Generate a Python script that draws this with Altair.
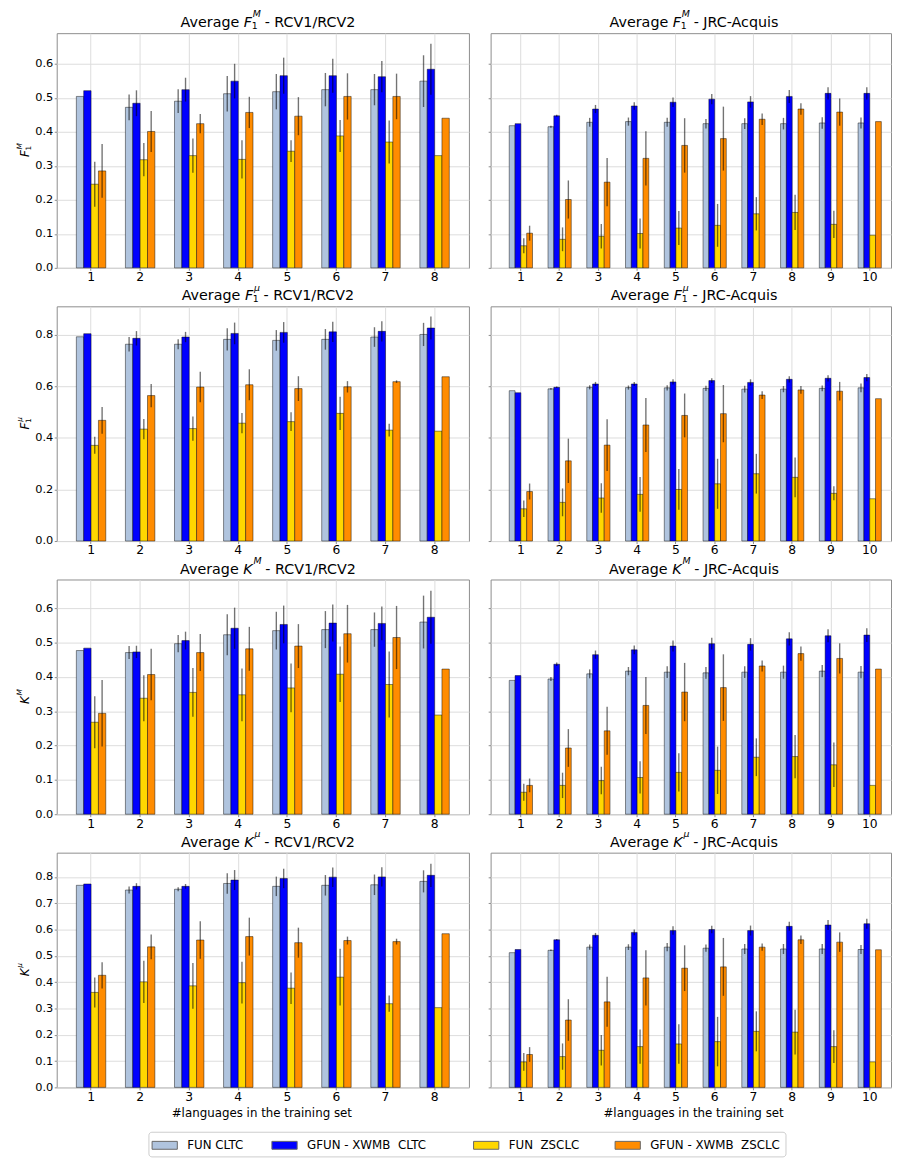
import altair as alt
import pandas as pd

FONT = "DejaVu Sans"

SERIES = ["FUN CLTC", "GFUN - XWMB CLTC", "FUN ZSCLC", "GFUN - XWMB ZSCLC"]
LEGEND_LABELS = ["FUN CLTC",
                 "GFUN - XWMB\u00a0\u00a0CLTC" + "\u00a0" * 5 + "\u200b",
                 "FUN\u00a0\u00a0ZSCLC\u00a0\u00a0\u200b",
                 "GFUN - XWMB\u00a0\u00a0ZSCLC"]
COLORS = ["#b0c4de", "#0000ff", "#ffd700", "#ff8c00"]

RCV_LANGS = [1, 2, 3, 4, 5, 6, 7, 8]
JRC_LANGS = [1, 2, 3, 4, 5, 6, 7, 8, 9, 10]
X_TITLE = "#languages in the training set"

# ---- Average F1^M - RCV1/RCV2 ----
F1M_RCV_FUN_CLTC = [0.504, 0.472, 0.490, 0.512, 0.518, 0.524, 0.524, 0.549]
F1M_RCV_FUN_CLTC_SD = [None, 0.038, 0.035, 0.052, 0.052, 0.049, 0.046, 0.076]
F1M_RCV_GFUN_CLTC = [0.521, 0.484, 0.524, 0.549, 0.565, 0.565, 0.562, 0.584]
F1M_RCV_GFUN_CLTC_SD = [None, 0.038, 0.035, 0.051, 0.053, 0.050, 0.046, 0.075]
F1M_RCV_FUN_ZSCLC = [0.246, 0.318, 0.330, 0.319, 0.343, 0.388, 0.370, 0.330]
F1M_RCV_FUN_ZSCLC_SD = [0.066, 0.049, 0.050, 0.056, 0.032, 0.047, 0.063, None]
F1M_RCV_GFUN_ZSCLC = [0.285, 0.401, 0.424, 0.457, 0.446, 0.504, 0.504, 0.440]
F1M_RCV_GFUN_ZSCLC_SD = [0.079, 0.060, 0.028, 0.046, 0.056, 0.068, 0.067, None]

# ---- Average F1^M - JRC-Acquis ----
F1M_JRC_FUN_CLTC = [0.418, 0.415, 0.428, 0.430, 0.428, 0.424, 0.424, 0.424, 0.426, 0.426]
F1M_JRC_FUN_CLTC_SD = [None, 0.003, 0.013, 0.012, 0.013, 0.014, 0.016, 0.017, 0.017, 0.016]
F1M_JRC_GFUN_CLTC = [0.424, 0.447, 0.467, 0.476, 0.487, 0.496, 0.488, 0.504, 0.513, 0.513]
F1M_JRC_GFUN_CLTC_SD = [None, 0.003, 0.012, 0.011, 0.014, 0.015, 0.017, 0.019, 0.018, 0.018]
F1M_JRC_FUN_ZSCLC = [0.065, 0.084, 0.093, 0.101, 0.117, 0.125, 0.159, 0.163, 0.128, 0.096]
F1M_JRC_FUN_ZSCLC_SD = [0.022, 0.035, 0.036, 0.044, 0.050, 0.063, 0.049, 0.052, 0.040, None]
F1M_JRC_GFUN_ZSCLC = [0.102, 0.201, 0.252, 0.322, 0.360, 0.380, 0.437, 0.467, 0.458, 0.430]
F1M_JRC_GFUN_ZSCLC_SD = [0.022, 0.056, 0.071, 0.080, 0.080, 0.094, 0.017, 0.017, 0.040, None]

# ---- Average F1^mu - RCV1/RCV2 ----
F1U_RCV_FUN_CLTC = [0.792, 0.763, 0.763, 0.782, 0.778, 0.782, 0.791, 0.801]
F1U_RCV_FUN_CLTC_SD = [None, 0.028, 0.019, 0.043, 0.040, 0.040, 0.038, 0.045]
F1U_RCV_GFUN_CLTC = [0.804, 0.786, 0.791, 0.805, 0.809, 0.811, 0.813, 0.826]
F1U_RCV_GFUN_CLTC_SD = [None, 0.028, 0.020, 0.042, 0.040, 0.039, 0.039, 0.045]
F1U_RCV_FUN_ZSCLC = [0.371, 0.434, 0.436, 0.457, 0.463, 0.495, 0.430, 0.426]
F1U_RCV_FUN_ZSCLC_SD = [0.033, 0.039, 0.047, 0.039, 0.036, 0.064, 0.025, None]
F1U_RCV_GFUN_ZSCLC = [0.468, 0.564, 0.597, 0.606, 0.591, 0.598, 0.618, 0.637]
F1U_RCV_GFUN_ZSCLC_SD = [0.052, 0.045, 0.059, 0.060, 0.048, 0.022, 0.005, None]

# ---- Average F1^mu - JRC-Acquis ----
F1U_JRC_FUN_CLTC = [0.583, 0.590, 0.596, 0.595, 0.594, 0.592, 0.589, 0.589, 0.592, 0.594]
F1U_JRC_FUN_CLTC_SD = [None, 0.003, 0.008, 0.008, 0.010, 0.010, 0.013, 0.012, 0.011, 0.017]
F1U_JRC_GFUN_CLTC = [0.575, 0.596, 0.609, 0.609, 0.617, 0.622, 0.615, 0.627, 0.631, 0.634]
F1U_JRC_GFUN_CLTC_SD = [None, 0.003, 0.008, 0.008, 0.010, 0.009, 0.012, 0.012, 0.012, 0.014]
F1U_JRC_FUN_ZSCLC = [0.125, 0.150, 0.167, 0.181, 0.200, 0.222, 0.261, 0.247, 0.185, 0.164]
F1U_JRC_FUN_ZSCLC_SD = [0.032, 0.054, 0.057, 0.067, 0.079, 0.097, 0.077, 0.077, 0.027, None]
F1U_JRC_GFUN_ZSCLC = [0.192, 0.311, 0.372, 0.450, 0.487, 0.494, 0.566, 0.586, 0.581, 0.552]
F1U_JRC_GFUN_ZSCLC_SD = [0.031, 0.086, 0.100, 0.105, 0.085, 0.111, 0.015, 0.015, 0.036, None]

# ---- Average K^M - RCV1/RCV2 ----
KM_RCV_FUN_CLTC = [0.477, 0.471, 0.497, 0.523, 0.535, 0.538, 0.538, 0.560]
KM_RCV_FUN_CLTC_SD = [None, 0.019, 0.025, 0.060, 0.055, 0.054, 0.050, 0.077]
KM_RCV_GFUN_CLTC = [0.484, 0.473, 0.506, 0.542, 0.553, 0.557, 0.556, 0.574]
KM_RCV_GFUN_CLTC_SD = [None, 0.018, 0.026, 0.060, 0.055, 0.054, 0.049, 0.077]
KM_RCV_FUN_ZSCLC = [0.268, 0.338, 0.355, 0.348, 0.368, 0.408, 0.378, 0.289]
KM_RCV_FUN_ZSCLC_SD = [0.076, 0.067, 0.071, 0.077, 0.071, 0.081, 0.096, None]
KM_RCV_GFUN_ZSCLC = [0.294, 0.407, 0.471, 0.482, 0.490, 0.526, 0.515, 0.423]
KM_RCV_GFUN_ZSCLC_SD = [0.097, 0.075, 0.054, 0.064, 0.064, 0.084, 0.092, None]

# ---- Average K^M - JRC-Acquis ----
KM_JRC_FUN_CLTC = [0.390, 0.394, 0.409, 0.417, 0.414, 0.412, 0.414, 0.414, 0.417, 0.414]
KM_JRC_FUN_CLTC_SD = [None, 0.006, 0.013, 0.012, 0.017, 0.017, 0.017, 0.019, 0.018, 0.018]
KM_JRC_GFUN_CLTC = [0.404, 0.437, 0.465, 0.479, 0.490, 0.497, 0.495, 0.511, 0.520, 0.522]
KM_JRC_GFUN_CLTC_SD = [None, 0.005, 0.012, 0.013, 0.016, 0.017, 0.018, 0.019, 0.019, 0.020]
KM_JRC_FUN_ZSCLC = [0.064, 0.084, 0.098, 0.107, 0.122, 0.128, 0.166, 0.168, 0.144, 0.084]
KM_JRC_FUN_ZSCLC_SD = [0.025, 0.037, 0.040, 0.047, 0.056, 0.069, 0.055, 0.063, 0.065, None]
KM_JRC_GFUN_ZSCLC = [0.084, 0.193, 0.243, 0.317, 0.356, 0.369, 0.432, 0.468, 0.454, 0.423]
KM_JRC_GFUN_ZSCLC_SD = [0.020, 0.055, 0.070, 0.083, 0.085, 0.097, 0.016, 0.021, 0.044, None]

# ---- Average K^mu - RCV1/RCV2 ----
KU_RCV_FUN_CLTC = [0.768, 0.750, 0.753, 0.775, 0.764, 0.768, 0.770, 0.783]
KU_RCV_FUN_CLTC_SD = [None, 0.013, 0.008, 0.039, 0.037, 0.039, 0.039, 0.042]
KU_RCV_GFUN_CLTC = [0.773, 0.764, 0.764, 0.788, 0.794, 0.799, 0.800, 0.806]
KU_RCV_GFUN_CLTC_SD = [None, 0.012, 0.009, 0.038, 0.037, 0.037, 0.037, 0.044]
KU_RCV_FUN_ZSCLC = [0.361, 0.401, 0.386, 0.398, 0.377, 0.419, 0.318, 0.303]
KU_RCV_FUN_ZSCLC_SD = [0.057, 0.080, 0.087, 0.079, 0.060, 0.108, 0.031, None]
KU_RCV_GFUN_ZSCLC = [0.426, 0.534, 0.560, 0.573, 0.550, 0.558, 0.554, 0.584]
KU_RCV_GFUN_ZSCLC_SD = [0.050, 0.047, 0.071, 0.072, 0.057, 0.015, 0.011, None]

# ---- Average K^mu - JRC-Acquis ----
KU_JRC_FUN_CLTC = [0.512, 0.521, 0.533, 0.533, 0.533, 0.529, 0.526, 0.526, 0.526, 0.524]
KU_JRC_FUN_CLTC_SD = [None, 0.003, 0.010, 0.011, 0.016, 0.014, 0.019, 0.019, 0.019, 0.017]
KU_JRC_GFUN_CLTC = [0.524, 0.561, 0.578, 0.589, 0.596, 0.600, 0.596, 0.612, 0.617, 0.622]
KU_JRC_GFUN_CLTC_SD = [None, 0.003, 0.009, 0.011, 0.016, 0.014, 0.019, 0.017, 0.019, 0.019]
KU_JRC_FUN_ZSCLC = [0.097, 0.117, 0.141, 0.155, 0.165, 0.174, 0.213, 0.210, 0.155, 0.097]
KU_JRC_FUN_ZSCLC_SD = [0.034, 0.050, 0.058, 0.065, 0.075, 0.094, 0.076, 0.085, 0.062, None]
KU_JRC_GFUN_ZSCLC = [0.125, 0.256, 0.325, 0.416, 0.453, 0.458, 0.533, 0.561, 0.552, 0.523]
KU_JRC_GFUN_ZSCLC_SD = [0.028, 0.079, 0.095, 0.105, 0.087, 0.110, 0.014, 0.016, 0.037, None]

# approximate DejaVu Sans advance widths (em) for laying out the math-style labels
ADV = {'A': 0.684, 'v': 0.592, 'e': 0.615, 'r': 0.411, 'a': 0.613, 'g': 0.635,
       ' ': 0.318, '\u00a0': 0.318, '-': 0.361, 'R': 0.695, 'C': 0.698, 'V': 0.684,
       '1': 0.636, '/': 0.337, '2': 0.636, 'J': 0.295, 'q': 0.635, 'u': 0.634,
       'i': 0.278, 's': 0.521, 'c': 0.550, 'K': 0.656, 'F': 0.575, 'M': 0.863,
       '\u03bc': 0.636}


def tw(s, size):
    return sum(ADV.get(ch, 0.6) for ch in s) * size


def frame(langs, means, sds):
    rows = []
    for s, m, e in zip(SERIES, means, sds):
        for n, v, sd in zip(langs, m, e):
            rows.append({"n": n, "series": s, "value": v,
                         "sd": 0.0 if sd is None else sd})
    return pd.DataFrame(rows)


ONE = alt.Data(values=[{"k": 0}])


def math_label(prefix, sym, sup, sub, suffix, size, ssize, px, py,
               angle=0, raise_=10.0, drop=1.5):
    gap = tw(" ", size)
    gp = gap if prefix else 0.0
    gs = gap if suffix else 0.0
    wp, wf = tw(prefix, size) + gp, tw(sym, size)
    ws = max(tw(sup, ssize), tw(sub, ssize))
    wsuf = tw(suffix, size) + gs
    total = wp + wf + ws + wsuf
    f0 = -total / 2 + wp

    def piece(text, dx, align, fsize, dy=0.0, italic=False):
        kw = dict(text=text, dx=dx, dy=dy, align=align, baseline="alphabetic",
                  fontSize=fsize, font=FONT, color="black")
        if italic:
            kw["fontStyle"] = "italic"
        if angle:
            kw["angle"] = angle
        return alt.Chart(ONE).mark_text(**kw).encode(
            x=alt.value(px), y=alt.value(py))

    layers = []
    if prefix:
        layers.append(piece(prefix, f0 - gp, "right", size))
    layers.append(piece(sym, f0, "left", size, italic=True))
    if sup:
        layers.append(piece(sup, f0 + wf + 0.8, "left", ssize, dy=-raise_,
                            italic=True))
    if sub:
        layers.append(piece(sub, f0 + wf - 0.3, "left", ssize, dy=drop))
    if suffix:
        layers.append(piece(suffix, f0 + wf + ws + gs, "left", size))
    return layers


label_expr = " : ".join(
    f"datum.label == '{s}' ? '{l}'" for s, l in zip(SERIES, LEGEND_LABELS)
) + " : datum.label"

LEGEND = alt.Legend(
    title=None, orient="none", legendX=93, legendY=1114,
    direction="horizontal", columns=4,
    symbolType="M-1.6,-0.5H1.6V0.5H-1.6Z", symbolSize=256,
    symbolStrokeColor="#666666", symbolStrokeWidth=1, symbolOpacity=1,
    symbolOffset=3, labelOffset=14.3, columnPadding=25.5, padding=5,
    strokeColor="#cccccc", cornerRadius=3, fillColor="white",
    labelFontSize=12, labelFont=FONT, labelColor="black", labelLimit=300,
    labelExpr=label_expr,
)

H = 238
W_LEFT, W_RIGHT = 418, 406


def panel(df, ymax, yticks, is_left, is_bottom, sym, sup, sub, dataset):
    if is_left:
        width = W_LEFT
        xs = alt.Scale(paddingInner=0.4, paddingOuter=0.4)
        tcx, xtx = 214.5, 207.5
    else:
        width = W_RIGHT
        xs = alt.Scale(paddingInner=0.4, paddingOuter=0.365, align=0.658)
        tcx, xtx = 206.5, 205.3
    xaxis = dict(labelAngle=0, grid=True, tickSize=2.5, labelPadding=0.5,
                 labelFontSize=12.5, title=None)
    if is_bottom:
        xaxis.update(title=X_TITLE, titlePadding=5, titleFontSize=12,
                     titleX=xtx)
    x = alt.X("n:O", scale=xs, axis=alt.Axis(**xaxis))
    xo = alt.XOffset("series:N", sort=SERIES,
                     scale=alt.Scale(domain=SERIES, paddingInner=0,
                                     paddingOuter=0))
    y = alt.Y("value:Q",
              scale=alt.Scale(domain=[0, ymax], nice=False, zero=True),
              axis=alt.Axis(values=yticks, tickCount=len(yticks) + 2,
                            format=".1f", labels=is_left, labelOverlap=False,
                            title=None, grid=True, tickSize=2.5,
                            labelPadding=1.5, labelFontSize=11.5))
    color = alt.Color("series:N", sort=SERIES,
                      scale=alt.Scale(domain=SERIES, range=COLORS),
                      legend=LEGEND)
    bars = alt.Chart(df).mark_bar(
        stroke="black", strokeOpacity=0.45, strokeWidth=1
    ).encode(x=x, xOffset=xo, y=y, color=color)
    errs = alt.Chart(df).transform_filter("datum.sd > 0").transform_calculate(
        lo="datum.value - datum.sd", hi="datum.value + datum.sd"
    ).mark_rule(color="black", opacity=0.55, strokeWidth=1.4).encode(
        x=x, xOffset=xo, y="lo:Q", y2="hi:Q")
    layers = [bars, errs]
    layers += math_label("Average", sym, sup, sub, "- " + dataset,
                         14.5, 9.5, tcx, -6.0)
    if is_left:
        layers += math_label("", sym, sup, sub, "", 12, 7.5, -28, H / 2,
                             angle=270, raise_=7.5, drop=1.5)
    return alt.layer(*layers).properties(width=width, height=H)


RCV = "RCV1/RCV2"
JRC = "JRC-Acquis"

specs = [
    (frame(RCV_LANGS,
           [F1M_RCV_FUN_CLTC, F1M_RCV_GFUN_CLTC, F1M_RCV_FUN_ZSCLC, F1M_RCV_GFUN_ZSCLC],
           [F1M_RCV_FUN_CLTC_SD, F1M_RCV_GFUN_CLTC_SD, F1M_RCV_FUN_ZSCLC_SD, F1M_RCV_GFUN_ZSCLC_SD]),
     frame(JRC_LANGS,
           [F1M_JRC_FUN_CLTC, F1M_JRC_GFUN_CLTC, F1M_JRC_FUN_ZSCLC, F1M_JRC_GFUN_ZSCLC],
           [F1M_JRC_FUN_CLTC_SD, F1M_JRC_GFUN_CLTC_SD, F1M_JRC_FUN_ZSCLC_SD, F1M_JRC_GFUN_ZSCLC_SD]),
     0.69, [0, 0.1, 0.2, 0.3, 0.4, 0.5, 0.6], "F", "M", "1"),
    (frame(RCV_LANGS,
           [F1U_RCV_FUN_CLTC, F1U_RCV_GFUN_CLTC, F1U_RCV_FUN_ZSCLC, F1U_RCV_GFUN_ZSCLC],
           [F1U_RCV_FUN_CLTC_SD, F1U_RCV_GFUN_CLTC_SD, F1U_RCV_FUN_ZSCLC_SD, F1U_RCV_GFUN_ZSCLC_SD]),
     frame(JRC_LANGS,
           [F1U_JRC_FUN_CLTC, F1U_JRC_GFUN_CLTC, F1U_JRC_FUN_ZSCLC, F1U_JRC_GFUN_ZSCLC],
           [F1U_JRC_FUN_CLTC_SD, F1U_JRC_GFUN_CLTC_SD, F1U_JRC_FUN_ZSCLC_SD, F1U_JRC_GFUN_ZSCLC_SD]),
     0.91, [0, 0.2, 0.4, 0.6, 0.8], "F", "\u03bc", "1"),
    (frame(RCV_LANGS,
           [KM_RCV_FUN_CLTC, KM_RCV_GFUN_CLTC, KM_RCV_FUN_ZSCLC, KM_RCV_GFUN_ZSCLC],
           [KM_RCV_FUN_CLTC_SD, KM_RCV_GFUN_CLTC_SD, KM_RCV_FUN_ZSCLC_SD, KM_RCV_GFUN_ZSCLC_SD]),
     frame(JRC_LANGS,
           [KM_JRC_FUN_CLTC, KM_JRC_GFUN_CLTC, KM_JRC_FUN_ZSCLC, KM_JRC_GFUN_ZSCLC],
           [KM_JRC_FUN_CLTC_SD, KM_JRC_GFUN_CLTC_SD, KM_JRC_FUN_ZSCLC_SD, KM_JRC_GFUN_ZSCLC_SD]),
     0.684, [0, 0.1, 0.2, 0.3, 0.4, 0.5, 0.6], "K", "M", ""),
    (frame(RCV_LANGS,
           [KU_RCV_FUN_CLTC, KU_RCV_GFUN_CLTC, KU_RCV_FUN_ZSCLC, KU_RCV_GFUN_ZSCLC],
           [KU_RCV_FUN_CLTC_SD, KU_RCV_GFUN_CLTC_SD, KU_RCV_FUN_ZSCLC_SD, KU_RCV_GFUN_ZSCLC_SD]),
     frame(JRC_LANGS,
           [KU_JRC_FUN_CLTC, KU_JRC_GFUN_CLTC, KU_JRC_FUN_ZSCLC, KU_JRC_GFUN_ZSCLC],
           [KU_JRC_FUN_CLTC_SD, KU_JRC_GFUN_CLTC_SD, KU_JRC_FUN_ZSCLC_SD, KU_JRC_GFUN_ZSCLC_SD]),
     0.892, [0, 0.1, 0.2, 0.3, 0.4, 0.5, 0.6, 0.7, 0.8], "K", "\u03bc", ""),
]

panels = []
for i, (dl, dr, ymax, ticks, sym, sup, sub) in enumerate(specs):
    bottom = i == len(specs) - 1
    panels.append(panel(dl, ymax, ticks, True, bottom, sym, sup, sub, RCV))
    panels.append(panel(dr, ymax, ticks, False, bottom, sym, sup, sub, JRC))

chart = alt.concat(
    *panels, columns=2, spacing={"row": 39, "column": 22}
).resolve_scale(
    x="independent", y="independent", xOffset="independent", color="shared"
).properties(
    bounds="flush",
    padding={"left": 7.4, "top": -7.6, "right": 0, "bottom": 1},
).configure(font=FONT).configure_view(
    stroke="#8c8c8c", strokeWidth=1
).configure_axis(
    gridColor="#dcdcdc", gridWidth=1, domain=False, tickColor="#8c8c8c",
    labelColor="black", labelFont=FONT, titleFont=FONT, titleColor="black",
    titleFontWeight="normal",
)

chart.save("out.html", embed_options={"renderer": "svg", "actions": False})
